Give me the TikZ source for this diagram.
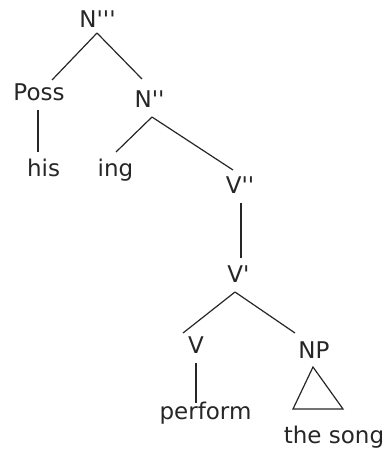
\documentclass[tikz,border=0pt]{standalone}
\usepackage{fontspec}
\usetikzlibrary{calc}
\newfontfamily\treefont{DejaVu Sans}
\begin{document}
\begin{tikzpicture}[x=1pt,y=-1pt,
  lbl/.style={font=\treefont\fontsize{23}{27}\selectfont, inner sep=0pt, anchor=base, text=black!85},
  edge/.style={line width=1.2pt, draw=black!85}]
\useasboundingbox (0,0) rectangle (386,451);
\node[lbl] (Nppp) at (97.5,27) {N'''};
\node[lbl] (Poss) at (39,100) {Poss};
\node[lbl] (his) at (43.5,176) {his};
\node[lbl] (Npp) at (149.5,107) {N''};
\node[lbl] (ing) at (115.5,176) {ing};
\node[lbl] (Vpp) at (240,193) {V''};
\node[lbl] (Vp) at (238.5,282) {V'};
\node[lbl] (V) at (196,353) {V};
\node[lbl] (NP) at (314,358) {NP};
\node[lbl] (perform) at (205.5,419) {perform};
\node[lbl] (song) at (334,443) {the song};
\draw[edge] ($(Nppp.base)+(-0.5,6)$) -- ($(Poss.base)+(13,-20)$);
\draw[edge] ($(Nppp.base)+(-0.5,6)$) -- ($(Npp.base)+(-7.5,-28)$);
\draw[edge] ($(Poss.base)+(-1,10)$) -- ($(his.base)+(-5.5,-24)$);
\draw[edge] ($(Npp.base)+(2.5,10)$) -- ($(ing.base)+(0.5,-24)$);
\draw[edge] ($(Npp.base)+(2.5,10)$) -- ($(Vpp.base)+(-7,-23)$);
\draw[edge] ($(Vpp.base)+(1,10)$) -- ($(Vp.base)+(2.5,-24)$);
\draw[edge] ($(Vp.base)+(-3.5,10)$) -- ($(V.base)+(-13,-20)$);
\draw[edge] ($(Vp.base)+(-3.5,10)$) -- ($(NP.base)+(-19,-25)$);
\draw[edge] ($(V.base)+(0,10)$) -- ($(perform.base)+(-9.5,-16)$);
\draw[edge, line join=miter] ($(NP.base)+(-1,9)$) -- ($(NP.base)+(-21,51)$) -- ($(NP.base)+(29,51)$) -- cycle;
\end{tikzpicture}
\end{document}
